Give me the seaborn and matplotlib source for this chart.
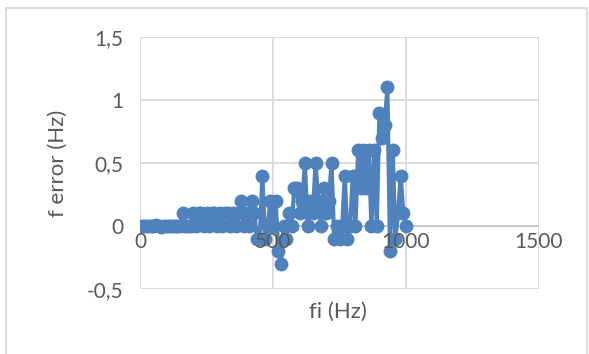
import matplotlib
matplotlib.use("Agg")
import matplotlib.pyplot as plt
import seaborn as sns
import pandas as pd
from matplotlib.patches import Rectangle

freq_hz = list(range(0, 1001, 10))
f_error = [
    0, 0, 0, 0, 0, 0, 0.01, 0, -0.01, 0,          # 0-90
    0, 0, 0, 0, 0, 0, 0.1, 0, 0, 0,               # 100-190
    0.1, 0, 0.1, 0.1, 0, 0.1, 0, 0.1, 0.1, 0,     # 200-290
    0.1, 0, 0.1, 0.1, 0, 0.1, 0, 0.1, 0.2, 0,     # 300-390
    0.1, 0, 0.2, 0.1, -0.1, -0.1, 0.4, -0.1, 0, 0.2,  # 400-490
    0, 0.2, -0.2, -0.3, 0, -0.1, 0.1, 0, 0.3, 0.3,    # 500-590
    0.1, 0.2, 0.5, 0, 0.2, 0.1, 0.5, 0.2, 0, 0.3,     # 600-690
    0.1, 0.2, 0.5, -0.1, 0, -0.1, 0, 0.4, -0.1, 0,    # 700-790
    0.4, 0, 0.6, 0.3, 0.6, 0.3, 0.6, 0, 0.6, 0,       # 800-890
    0.9, 0.7, 0.8, 1.1, -0.2, 0.6, -0.1, 0.1, 0.4, 0.1,  # 900-990
    0,                                                 # 1000
]
x_ticks = [0, 500, 1000, 1500]
x_tick_labels = ["0", "500", "1000", "1500"]
y_ticks = [-0.5, 0, 0.5, 1, 1.5]
y_tick_labels = ["-0,5", "0", "0,5", "1", "1,5"]

df = pd.DataFrame({"fi": freq_hz, "err": f_error})

sns.set_style("white")
plt.rcParams["font.family"] = ["Lato", "DejaVu Sans"]

W, H = 589, 354
fig = plt.figure(figsize=(W / 100, H / 100), dpi=100)
ax = fig.add_axes([140 / W, 1 - 289 / H, (539 - 140) / W, (289 - 37) / H])

grid_c = "#d9d9d9"
text_c = "#595959"
line_c = "#4f81bd"

sns.lineplot(data=df, x="fi", y="err", ax=ax, color=line_c, linewidth=3.0,
             marker="o", markersize=10, markeredgewidth=0, sort=False)

ax.set_xlim(0, 1500)
ax.set_ylim(-0.5, 1.5)
ax.set_xticks(x_ticks)
ax.set_xticklabels(x_tick_labels)
ax.set_yticks(y_ticks)
ax.set_yticklabels(y_tick_labels)
ax.grid(True, color=grid_c, linewidth=1.3)
ax.set_axisbelow(True)
for s in ["top", "right", "left", "bottom"]:
    ax.spines[s].set_visible(False)
ax.axhline(0, color="#c8c8c8", linewidth=1.3, zorder=1)
ax.set_xlabel("")
ax.set_ylabel("")
ax.tick_params(axis="both", length=0, labelsize=15, colors=text_c)
ax.tick_params(axis="y", pad=12)
for lbl in ax.get_xticklabels():
    lbl.set_visible(False)
for xt, lab in zip(x_ticks, x_tick_labels):
    ax.text(xt, -0.125, lab, ha="center", va="center", fontsize=15, color=text_c)

fig.text(338 / W, 1 - 312 / H, "fi (Hz)", ha="center", va="center", fontsize=16, color=text_c)
fig.text(58 / W, 1 - 163 / H, "f error (Hz)", ha="center", va="center", rotation=90,
         fontsize=16, color=text_c)

fig.patches.append(Rectangle((6 / W, -0.01), (587 - 6) / W, 1 - 8 / H + 0.01,
                             transform=fig.transFigure, fill=False,
                             edgecolor=grid_c, linewidth=1.3))

fig.savefig("out.png", dpi=100, facecolor="white")
